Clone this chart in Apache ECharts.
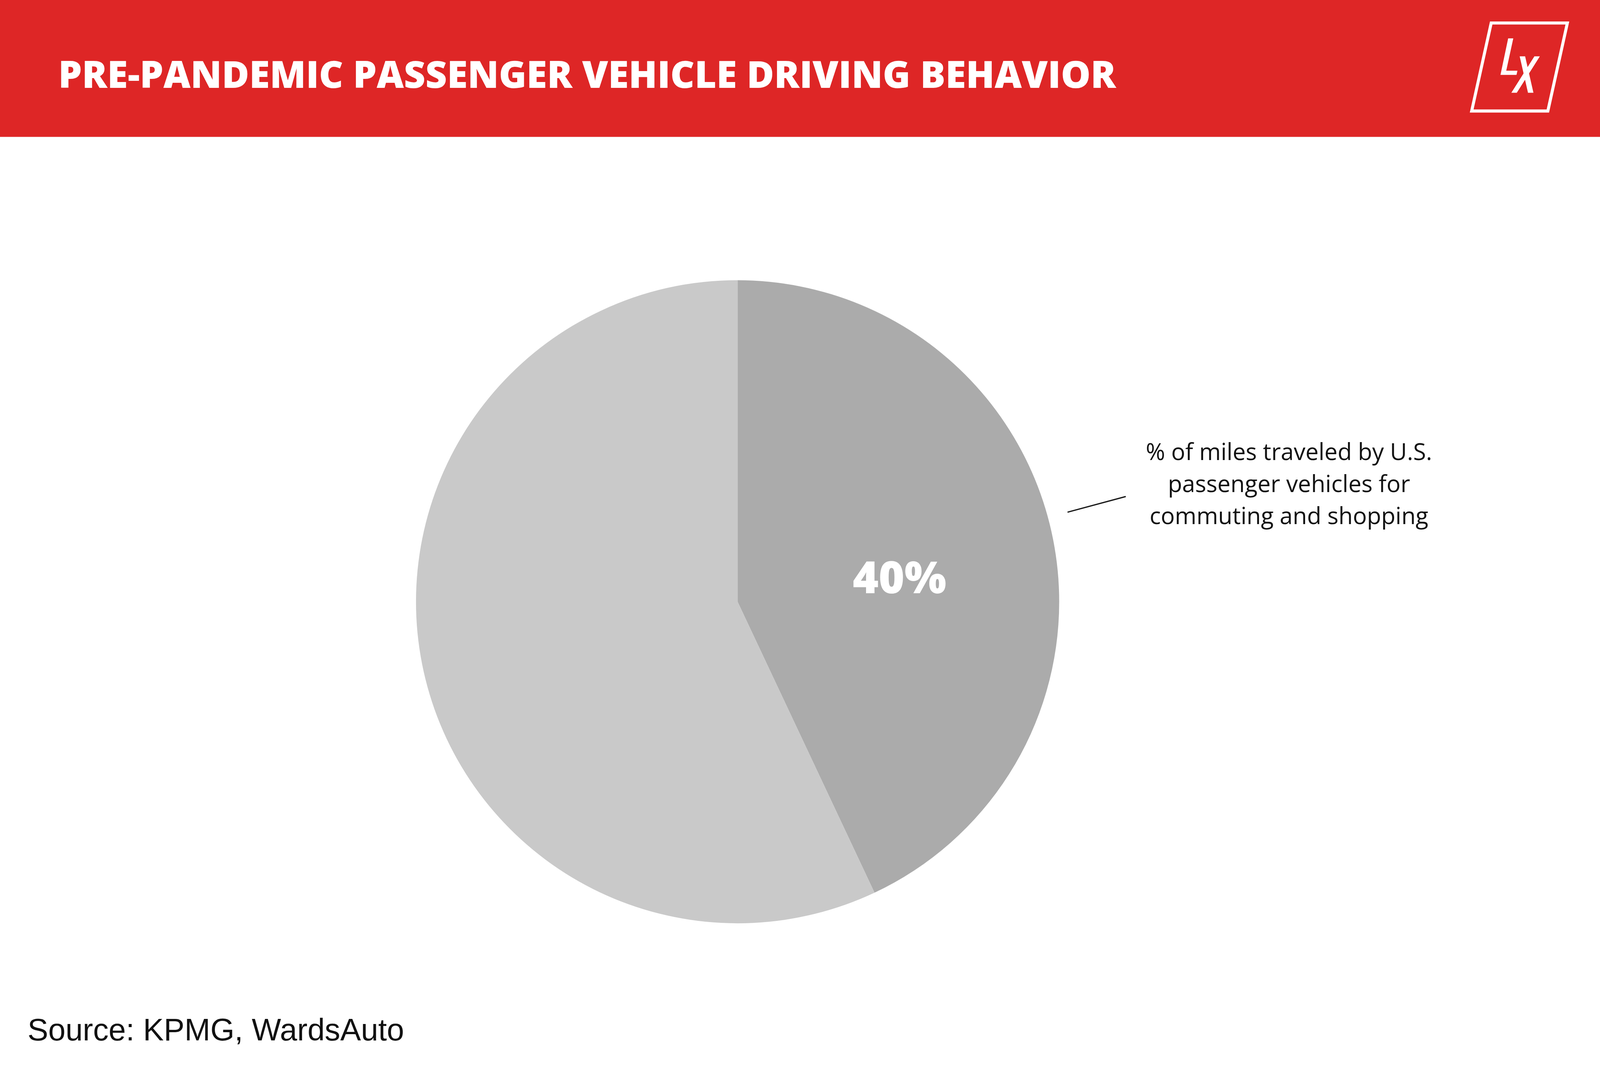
<!DOCTYPE html>
<html lang="en">
<head>
<meta charset="UTF-8">
<script src="https://cdn.jsdelivr.net/npm/echarts@6/dist/echarts.min.js"></script>
<style>
  html, body { margin: 0; padding: 0; background: #fff; overflow: hidden; }
  #chart { width: 100vw; height: 100vh; }
</style>
</head>
<body>
<div id="chart"></div>
<script>
    // slice shares as drawn in the picture (the label reads 40%)
    var sliceNames = ['Commuting and shopping', 'Other'];
    var sliceValues = [43, 57];
    var sliceLabels = ['40%', ''];
    var sliceColors = ['#ababab', '#c9c9c9'];

    var noteLines = [
        '% of miles traveled by U.S.',
        'passenger vehicles for',
        'commuting and shopping'
    ];

    var pieData = sliceNames.map(function (n, i) {
        return {
            name: n,
            value: sliceValues[i],
            itemStyle: {color: sliceColors[i]},
            label: {show: sliceLabels[i] !== ''}
        };
    });

    var myChart = echarts.init(document.getElementById('chart'));

    // layout is designed on a 5000 x 2727 board and scaled to the real window
    var W = myChart.getWidth(), H = myChart.getHeight();
    var s = Math.min(W / 5000, H / 2727);
    var ox = (W - 5000 * s) / 2;
    var bannerH = 428 * s;
    var midY = (bannerH + H) / 2;            // pie sits in the middle of the white area
    function X(v) { return ox + v * s; }
    function Yb(v) { return v * s; }          // banner
    function Yc(v) { return midY + (v - 1577.5) * s; }  // body
    function Yf(v) { return H - (2727 - v) * s; }       // footer
    function pts(list) { return list.map(function (p) { return [X(p[0]), Yb(p[1])]; }); }

    myChart.setOption({
        backgroundColor: '#ffffff',
        animation: false,
        title: {
            text: 'PRE-PANDEMIC PASSENGER VEHICLE DRIVING BEHAVIOR',
            left: X(176),
            top: Yb(177),
            textStyle: {
                color: '#ffffff',
                fontFamily: 'Open Sans',
                fontWeight: 800,
                fontSize: 117 * s
            }
        },
        graphic: [
            {type: 'rect', z: -10, shape: {x: 0, y: 0, width: W, height: bannerH}, style: {fill: '#de2626'}},
            // logo
            {type: 'polygon', shape: {points: pts([[4660, 72], [4898, 72], [4837, 347], [4599, 347]])},
                style: {fill: 'none', stroke: '#ffffff', lineWidth: 9.5 * s}},
            {type: 'polygon', shape: {points: pts([[4713, 120], [4729, 120], [4707, 221], [4742, 221], [4739, 234], [4689, 234]])},
                style: {fill: '#ffffff'}},
            {type: 'polygon', shape: {points: pts([[4749, 176], [4766, 176], [4792, 290], [4775, 290]])},
                style: {fill: '#ffffff'}},
            {type: 'polygon', shape: {points: pts([[4795, 176], [4812, 176], [4740, 290], [4723, 290]])},
                style: {fill: '#ffffff'}},
            // annotation
            {type: 'line', z: 10, shape: {x1: X(3336), y1: Yc(1300), x2: X(3518), y2: Yc(1251)},
                style: {stroke: '#1a1a1a', lineWidth: 4 * s}},
            {type: 'text', z: 10,
                style: {
                    text: noteLines.join('\n'),
                    x: X(4028), y: Yc(1066),
                    align: 'center',
                    fill: '#111111',
                    font: '400 ' + (73 * s) + 'px "Open Sans"',
                    lineHeight: 100 * s
                }},
            {type: 'text', z: 10,
                style: {
                    text: 'Source: KPMG, WardsAuto',
                    x: X(86), y: Yf(2575),
                    fill: '#111111',
                    font: '400 ' + (97 * s) + 'px "Liberation Sans"'
                }}
        ],
        series: [
            {
                name: 'Driving behavior',
                type: 'pie',
                center: [X(2305), Yc(1580)],
                radius: [0, 1005 * s],
                startAngle: 90,
                clockwise: true,
                silent: true,
                data: pieData,
                label: {
                    position: 'inside',
                    formatter: function (p) { return sliceLabels[p.dataIndex]; },
                    color: '#ffffff',
                    fontFamily: 'Open Sans',
                    fontWeight: 800,
                    fontSize: 138 * s,
                    offset: [12 * s, 45 * s]
                },
                labelLine: {show: false}
            }
        ]
    });
</script>
</body>
</html>
